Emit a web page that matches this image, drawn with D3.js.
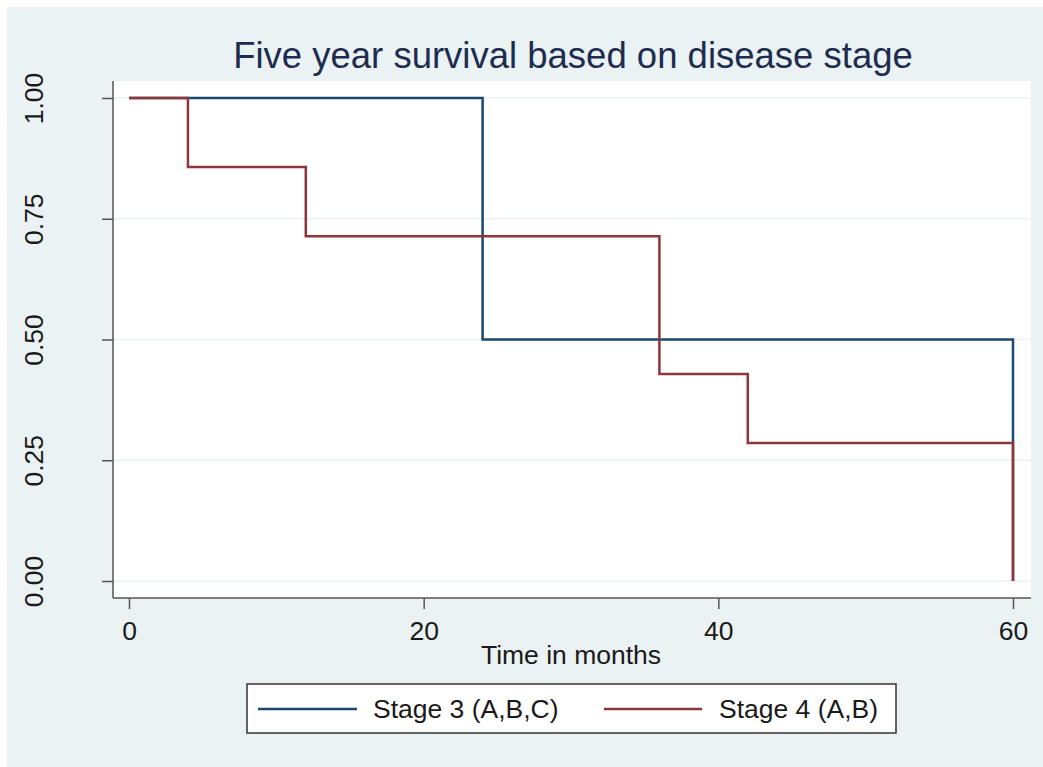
<!DOCTYPE html>
<html>
<head>
<meta charset="utf-8">
<script src="https://cdn.jsdelivr.net/npm/d3@7"></script>
<style>
  body { margin: 0; background: #fff; }
  svg { display: block; font-family: "Liberation Sans", Arial, sans-serif; }
</style>
</head>
<body>
<div id="chart"></div>
<script>
// survival data (Kaplan-Meier steps)
const stage3Times = [0, 24, 60];
const stage3Surv = [1.0, 0.5, 0.0];
const stage4Times = [0, 4, 12, 36, 42, 60];
const stage4Surv = [1.0, 0.857, 0.714, 0.4286, 0.2857, 0.0];
const xTicks = [0, 20, 40, 60];
const yTicks = [0, 0.25, 0.5, 0.75, 1.0];
const seriesNames = ['Stage 3 (A,B,C)', 'Stage 4 (A,B)'];
const seriesColors = ['#1a476f', '#90353b'];

const width = 1043, height = 767;
const svg = d3.select('#chart').append('svg')
    .attr('width', width)
    .attr('height', height);

// outer graph region
svg.append('rect')
    .attr('x', 7).attr('y', 7)
    .attr('width', width - 7).attr('height', height - 7)
    .attr('fill', '#eaf2f3');

const plot = { left: 113, right: 1031, top: 81, bottom: 598 };

svg.append('rect')
    .attr('x', plot.left).attr('y', plot.top)
    .attr('width', plot.right - plot.left)
    .attr('height', plot.bottom - plot.top)
    .attr('fill', '#fff');

const x = d3.scaleLinear().domain([0, 60]).range([129, 1013]);
const y = d3.scaleLinear().domain([0, 1]).range([581, 98]);

// gridlines
svg.append('g')
    .selectAll('line')
    .data(yTicks)
    .enter().append('line')
    .attr('x1', plot.left).attr('x2', plot.right)
    .attr('y1', d => y(d)).attr('y2', d => y(d))
    .attr('stroke', '#eaf2f3')
    .attr('stroke-width', 1.5);

// axes
const yAxis = svg.append('g')
    .attr('transform', `translate(${plot.left},0)`)
    .call(d3.axisLeft(y).tickValues(yTicks).tickSize(11).tickFormat(d3.format('.2f')));
yAxis.select('.domain').attr('d', `M0,${plot.top}V${plot.bottom}`);
// tick groups are already shifted to y(d), so only move left and rotate
yAxis.selectAll('.tick text')
    .attr('transform', `translate(${43 - plot.left},0) rotate(-90)`)
    .attr('x', 0).attr('y', 0).attr('dy', 0)
    .attr('text-anchor', 'middle')
    .attr('font-size', 26.5)
    .attr('fill', '#1a1a1a');

const xAxis = svg.append('g')
    .attr('transform', `translate(0,${plot.bottom})`)
    .call(d3.axisBottom(x).tickValues(xTicks).tickSize(11).tickFormat(d3.format('d')));
xAxis.select('.domain').attr('d', `M${plot.left},0H${plot.right}`);
xAxis.selectAll('.tick text')
    .attr('y', 42).attr('dy', 0)
    .attr('font-size', 26.5)
    .attr('fill', '#1a1a1a');

[yAxis, xAxis].forEach(ax => {
    ax.select('.domain').attr('stroke', '#555').attr('stroke-width', 1.5);
    ax.selectAll('.tick line').attr('stroke', '#555').attr('stroke-width', 1.5);
});

// step lines
const line = d3.line()
    .x(d => x(d[0]))
    .y(d => y(d[1]))
    .curve(d3.curveStepAfter);

const series = [
    d3.zip(stage3Times, stage3Surv),
    d3.zip(stage4Times, stage4Surv)
];

svg.append('g')
    .selectAll('path')
    .data(series)
    .enter().append('path')
    .attr('d', line)
    .attr('fill', 'none')
    .attr('stroke', (d, i) => seriesColors[i])
    .attr('stroke-width', 2.5);

// titles
svg.append('text')
    .attr('x', 573).attr('y', 68)
    .attr('text-anchor', 'middle')
    .attr('font-size', 36.5)
    .attr('fill', '#1e2d4f')
    .text('Five year survival based on disease stage');

svg.append('text')
    .attr('x', 571).attr('y', 664)
    .attr('text-anchor', 'middle')
    .attr('font-size', 26.5)
    .attr('fill', '#1a1a1a')
    .text('Time in months');

// legend
const legend = svg.append('g');
legend.append('rect')
    .attr('x', 247).attr('y', 684)
    .attr('width', 649).attr('height', 49)
    .attr('fill', '#fff')
    .attr('stroke', '#333')
    .attr('stroke-width', 1.5);

const legendItems = [
    { x1: 258, x2: 357, tx: 373 },
    { x1: 604, x2: 702, tx: 719 }
];
legendItems.forEach((item, i) => {
    legend.append('line')
        .attr('x1', item.x1).attr('x2', item.x2)
        .attr('y1', 709).attr('y2', 709)
        .attr('stroke', seriesColors[i])
        .attr('stroke-width', 2.5);
    legend.append('text')
        .attr('x', item.tx).attr('y', 718)
        .attr('font-size', 26.5)
        .attr('fill', '#1a1a1a')
        .text(seriesNames[i]);
});
</script>
</body>
</html>
